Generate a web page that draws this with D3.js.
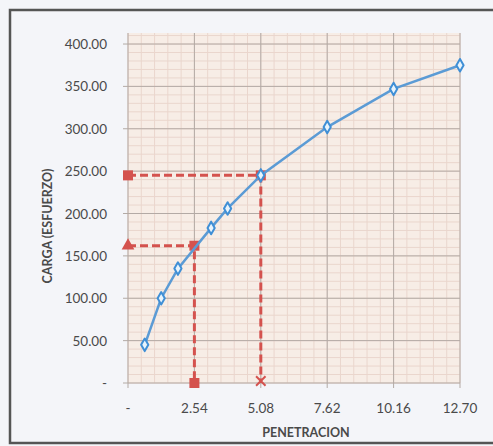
<!DOCTYPE html>
<html>
<head>
<meta charset="utf-8"/>
<style>
body { margin: 0; background: #f4f5f9; }
svg text { font-family: Lato, "Open Sans", sans-serif; fill: #4a4a4a; }
</style>
</head>
<body>
<svg width="493" height="446"></svg>
<script src="https://d3js.org/d3.v7.min.js"></script>
<script>
// curva carga - penetracion
var penetracion = [0.64, 1.27, 1.91, 3.18, 3.81, 5.08, 7.62, 10.16, 12.70];
var carga = [45, 100, 135, 183, 206, 245, 302, 347, 375];
var xTicks = [0, 2.54, 5.08, 7.62, 10.16, 12.70];
var yTicks = [0, 50, 100, 150, 200, 250, 300, 350, 400];
var carga254 = 162, carga508 = 245;

var svg = d3.select("svg");
var m = {left: 128, right: 460, top: 33, bottom: 383};

var x = d3.scaleLinear().domain([0, 12.70]).range([m.left, m.right]);
var y = d3.scaleLinear().domain([0, 413]).range([m.bottom, m.top]);

// frame
svg.append("rect").attr("x", 10).attr("y", 10).attr("width", 500).attr("height", 433)
  .attr("fill", "#f4f5f9").attr("stroke", "#555").attr("stroke-width", 2.5);

// plot area
svg.append("rect").attr("x", m.left).attr("y", m.top)
  .attr("width", m.right - m.left).attr("height", m.bottom - m.top)
  .attr("fill", "#f7ede6");

var g = svg.append("g");
// minor grid
g.selectAll(".vminor").data(d3.range(0, 12.71, 0.508)).enter().append("line")
  .attr("x1", d => x(d)).attr("x2", d => x(d)).attr("y1", m.top).attr("y2", m.bottom)
  .attr("stroke", "#ead6cd").attr("stroke-width", 1);
g.selectAll(".hminor").data(d3.range(0, 411, 10)).enter().append("line")
  .attr("y1", d => y(d)).attr("y2", d => y(d)).attr("x1", m.left).attr("x2", m.right)
  .attr("stroke", "#ead6cd").attr("stroke-width", 1);
// major grid
g.selectAll(".vmajor").data(xTicks).enter().append("line")
  .attr("x1", d => x(d)).attr("x2", d => x(d)).attr("y1", m.top).attr("y2", m.bottom + 5)
  .attr("stroke", "#b3aaa5").attr("stroke-width", 1);
g.selectAll(".hmajor").data(yTicks).enter().append("line")
  .attr("y1", d => y(d)).attr("y2", d => y(d)).attr("x1", m.left - 5).attr("x2", m.right)
  .attr("stroke", "#b3aaa5").attr("stroke-width", 1);

// tick labels
svg.selectAll(".ylab").data(yTicks).enter().append("text")
  .attr("x", 107).attr("y", d => y(d) + 5).attr("text-anchor", "end")
  .attr("font-size", 13.5).text(d => d === 0 ? "-" : d.toFixed(2));
svg.selectAll(".xlab").data(xTicks).enter().append("text")
  .attr("x", d => x(d)).attr("y", 413).attr("text-anchor", "middle")
  .attr("font-size", 13.5).text(d => d === 0 ? "-" : d.toFixed(2));

svg.append("text").attr("x", 306).attr("y", 437).attr("text-anchor", "middle")
  .attr("font-size", 12.5).attr("font-weight", "bold").text("PENETRACION");
svg.append("text").attr("transform", "translate(52,226) rotate(-90)")
  .attr("text-anchor", "middle").attr("font-size", 12.5).attr("font-weight", "bold")
  .text("CARGA (ESFUERZO)");

// red guide lines
var red = "#d4524e";
var guides = [
  [[0, carga508], [5.08, carga508], [5.08, 0]],
  [[0, carga254], [2.54, carga254], [2.54, 0]]
];
var line = d3.line().x(d => x(d[0])).y(d => y(d[1]));
svg.selectAll(".guide").data(guides).enter().append("path")
  .attr("d", line).attr("fill", "none").attr("stroke", red)
  .attr("stroke-width", 3).attr("stroke-dasharray", "8,4");

var squares = [[0, carga508], [5.08, carga508], [2.54, carga254], [2.54, 0]];
svg.selectAll(".sq").data(squares).enter().append("rect")
  .attr("x", d => x(d[0]) - 5).attr("y", d => y(d[1]) - 5)
  .attr("width", 10).attr("height", 10).attr("fill", red);
svg.append("path").attr("d", d3.symbol().type(d3.symbolTriangle).size(70)())
  .attr("transform", "translate(" + x(0) + "," + y(carga254) + ")").attr("fill", red);
svg.append("path").attr("d", d3.symbol().type(d3.symbolX).size(60)())
  .attr("transform", "translate(" + x(5.08) + "," + (y(0) - 2) + ")")
  .attr("fill", "none").attr("stroke", red).attr("stroke-width", 2);

// blue curve
var pts = penetracion.map((p, i) => [p, carga[i]]);
svg.append("path").attr("d", line(pts)).attr("fill", "none")
  .attr("stroke", "#5b9bd5").attr("stroke-width", 2.5);
svg.selectAll(".pt").data(pts).enter().append("path")
  .attr("d", d3.symbol().type(d3.symbolDiamond).size(45)())
  .attr("transform", d => "translate(" + x(d[0]) + "," + y(d[1]) + ")")
  .attr("fill", "#e8f4fc").attr("stroke", "#3f8fd6").attr("stroke-width", 2)
  .attr("stroke-linejoin", "round");
</script>
</body>
</html>
